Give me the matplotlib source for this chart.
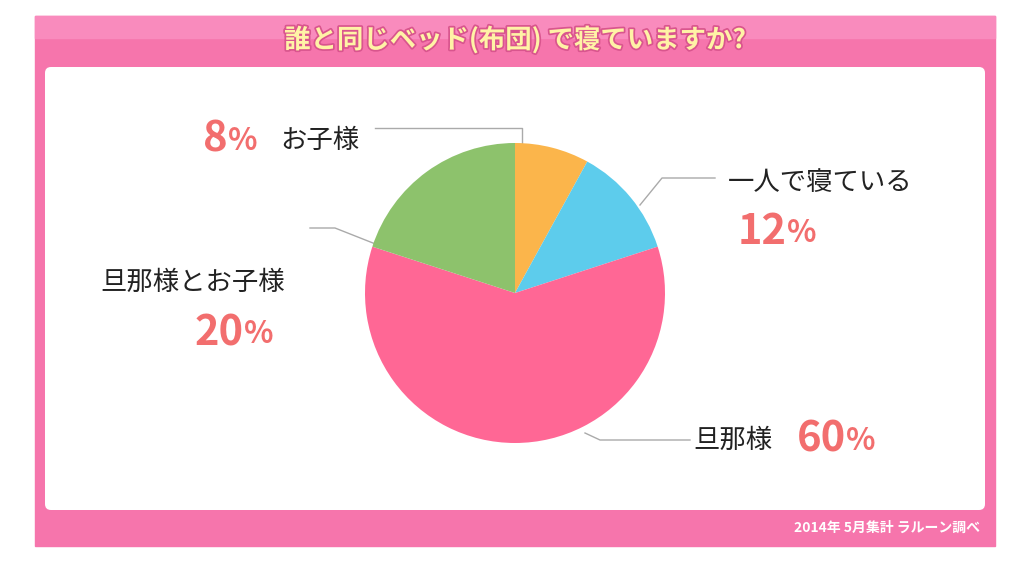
import matplotlib
matplotlib.use("Agg")
import matplotlib.pyplot as plt
from matplotlib.patches import FancyBboxPatch, Rectangle
import matplotlib.patheffects as pe

plt.rcParams["font.family"] = "Noto Sans CJK JP"

labels = ["お子様", "一人で寝ている", "旦那様", "旦那様とお子様"]
values = [8, 12, 60, 20]
colors = ["#FBB54B", "#5DCCEC", "#FF6795", "#8DC26C"]
title = "誰と同じベッド(布団) で寝ていますか?"
source = "2014年 5月集計 ラルーン調べ"

W, H = 1024, 570
fig = plt.figure(figsize=(W/100, H/100), dpi=100)
bg = fig.add_axes([0, 0, 1, 1])
bg.set_xlim(0, W); bg.set_ylim(H, 0); bg.axis("off")
bg.add_patch(Rectangle((35, 16), 960, 530, color="#F675AC"))
bg.add_patch(Rectangle((35, 16), 960, 22, color="#F98BBD"))
bg.add_patch(FancyBboxPatch((45, 67), 940, 443, boxstyle="round,pad=0,rounding_size=6",
                            color="white", ec="none"))
bg.text(515, 40, title, ha="center", va="center", fontsize=19, fontweight="bold",
        color="#FFF3A6", path_effects=[pe.withStroke(linewidth=2.5, foreground="#D9558E")])
bg.text(980, 528, source, ha="right", va="center", fontsize=10, color="white", fontweight="bold")

gray = "#AAAAAA"
for xs, ys in [([522, 522, 375], [145, 128, 128]),
               ([640, 662, 715], [205, 178, 178]),
               ([378, 335, 310], [245, 228, 228]),
               ([585, 600, 690], [433, 440, 440])]:
    bg.plot(xs, ys, color=gray, lw=1)

pc = "#F26E6E"
def pct(x, y, v):
    t = bg.text(x, y, str(v), fontsize=30, fontweight="bold", color=pc, ha="left", va="center")
    bg.annotate("%", xycoords=t, xy=(1, 0.5), xytext=(0, -1), textcoords="offset points",
                fontsize=22, fontweight="bold", color=pc, va="center", ha="left")

tk = dict(fontsize=19, color="#222222", va="center")
pct(203, 140, values[0]); bg.text(280, 140, labels[0], **tk)
bg.text(728, 183, labels[1], **tk); pct(738, 232, values[1])
bg.text(100, 282, labels[3], **tk); pct(195, 333, values[3])
bg.text(693, 440, labels[2], **tk); pct(797, 440, values[2])

ax = fig.add_axes([365/W, (H-443)/H, 300/W, 300/H])
ax.pie(values, colors=colors, startangle=90, counterclock=False,
       wedgeprops=dict(linewidth=0))
ax.set_xlim(-1, 1); ax.set_ylim(-1, 1)
ax.set_aspect("equal")
fig.savefig("out.png", dpi=100)
